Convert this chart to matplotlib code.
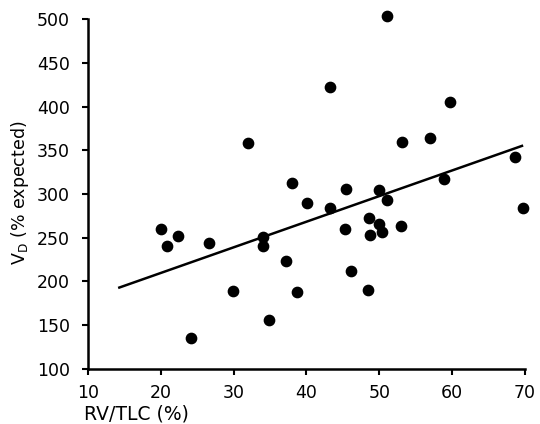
import matplotlib
matplotlib.use('Agg')
import matplotlib.pyplot as plt

# RV/TLC (%) and VD (% expected)
rv_tlc = [20.0, 20.9, 22.3, 26.6, 24.1, 29.9, 34.1, 34.1, 34.9, 32.0,
          37.2, 38.7, 45.3, 46.1, 48.5, 48.6, 49.9, 48.7, 50.4, 53.0,
          51.0, 43.2, 59.7, 53.1, 57.0, 68.6, 38.0, 40.1, 45.4, 50.0,
          51.1, 43.2, 58.9, 69.8]
vd = [260, 240, 252, 244, 135, 189, 251, 240, 156, 358,
      223, 188, 260, 212, 190, 273, 266, 253, 256, 263,
      504, 422, 405, 360, 364, 342, 312, 290, 306, 304,
      293, 284, 317, 284]

# regression line end points
fit_x = [14.3, 69.6]
fit_y = [193, 355]

xticks = [10, 20, 30, 40, 50, 60, 70]
yticks = [100, 150, 200, 250, 300, 350, 400, 450, 500]


def main():
    fig = plt.figure(figsize=(5.4, 4.24), dpi=100)
    ax = fig.add_axes([0.163, 0.13, 0.809, 0.825])

    ax.scatter(rv_tlc, vd, s=55, color='black', zorder=3, clip_on=False)
    ax.plot(fit_x, fit_y, color='black', linewidth=1.8)

    ax.set_xlim(10, 70)
    ax.set_ylim(100, 500)
    ax.set_xticks(xticks)
    ax.set_yticks(yticks)

    for side in ['top', 'right']:
        ax.spines[side].set_visible(False)
    for side in ['left', 'bottom']:
        ax.spines[side].set_linewidth(1.8)
    ax.tick_params(direction='out', length=4, width=1.5, labelsize=12.5)
    ax.tick_params(axis='y', pad=9)
    ax.tick_params(axis='x', pad=7)

    ax.set_xlabel('RV/TLC (%)', fontsize=13.5, ha='left', va='center')
    ax.xaxis.set_label_coords(-0.01, -0.128)
    ax.set_ylabel(r'V$_\mathrm{D}$ (% expected)', fontsize=12.5, va='center')
    ax.yaxis.set_label_coords(-0.155, 0.503)

    fig.savefig('out.png', dpi=100)
    plt.close(fig)


if __name__ == "__main__":
    main()
